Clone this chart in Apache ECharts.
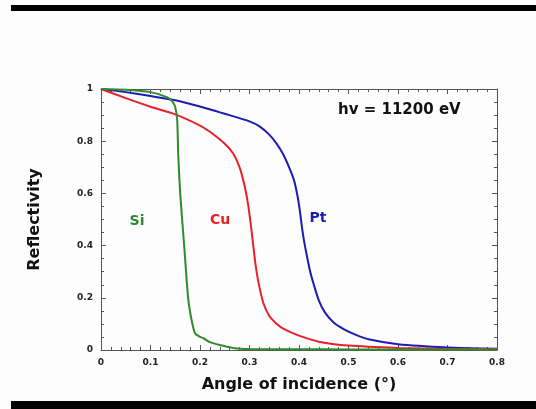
<!DOCTYPE html>
<html>
<head>
<meta charset="utf-8">
<script src="https://cdn.jsdelivr.net/npm/echarts@6/dist/echarts.min.js"></script>
<style>
  html, body { margin: 0; padding: 0; background: #fdfdfd; }
  #chart { width: 536px; height: 409px; }
</style>
</head>
<body>
<div id="chart"></div>
<script>
// reflectivity curves, x = angle (deg), y = reflectivity
var siX = [0, 0.05, 0.1, 0.133, 0.144, 0.15, 0.154, 0.156, 0.16, 0.168, 0.176, 0.183, 0.19, 0.2, 0.207, 0.22, 0.24, 0.267, 0.3, 0.4, 0.5, 0.6, 0.7, 0.8];
var siY = [1, 0.997, 0.988, 0.969, 0.953, 0.93, 0.88, 0.75, 0.6, 0.4, 0.2, 0.115, 0.064, 0.05, 0.045, 0.03, 0.019, 0.008, 0.004, 0.003, 0.002, 0.002, 0.002, 0.002];

var cuX = [0, 0.05, 0.1, 0.15, 0.2, 0.22, 0.25, 0.267, 0.28, 0.29, 0.297, 0.302, 0.307, 0.312, 0.318, 0.328, 0.34, 0.355, 0.37, 0.4, 0.44, 0.5, 0.6, 0.7, 0.8];
var cuY = [1, 0.965, 0.932, 0.903, 0.86, 0.836, 0.79, 0.753, 0.70, 0.63, 0.56, 0.49, 0.41, 0.33, 0.26, 0.18, 0.13, 0.10, 0.08, 0.055, 0.032, 0.017, 0.008, 0.004, 0.003];

var ptX = [0, 0.05, 0.1, 0.15, 0.2, 0.25, 0.3, 0.321, 0.34, 0.355, 0.368, 0.38, 0.39, 0.397, 0.402, 0.406, 0.41, 0.416, 0.422, 0.43, 0.44, 0.452, 0.47, 0.49, 0.515, 0.543, 0.6, 0.7, 0.8];
var ptY = [1, 0.988, 0.973, 0.957, 0.933, 0.905, 0.876, 0.856, 0.825, 0.79, 0.75, 0.70, 0.65, 0.59, 0.53, 0.47, 0.42, 0.36, 0.305, 0.25, 0.19, 0.145, 0.105, 0.08, 0.058, 0.04, 0.022, 0.01, 0.005];

var labels = [
  {text: 'Si', color: '#2e8b2e', x: 137, y: 221},
  {text: 'Cu', color: '#e8202a', x: 220, y: 220},
  {text: 'Pt', color: '#1c1cb4', x: 318, y: 218}
];

function pairs(xs, ys) {
  return xs.map(function (x, i) { return [x, ys[i]]; });
}

var chart = echarts.init(document.getElementById('chart'));
var fontFam = 'DejaVu Sans, Arial, sans-serif';
var frameColor = '#555';

function makeLine(name, xs, ys, color) {
  return {
    name: name,
    type: 'line',
    data: pairs(xs, ys),
    smooth: 0.2,
    showSymbol: false,
    lineStyle: { color: color, width: 2 }
  };
}

var graphics = [
  { type: 'rect', shape: { x: 11, y: 5, width: 525, height: 6 }, style: { fill: '#000' } },
  { type: 'rect', shape: { x: 11, y: 401, width: 525, height: 8 }, style: { fill: '#000' } },
  { type: 'text', left: 338, top: 103,
    style: { text: 'hv = 11200 eV', fill: '#111', font: 'bold 15px ' + fontFam } }
];
labels.forEach(function (l) {
  graphics.push({
    type: 'text', x: l.x, y: l.y,
    style: { text: l.text, fill: l.color, font: 'bold 14px ' + fontFam, align: 'center', verticalAlign: 'middle' }
  });
});

var option = {
  backgroundColor: '#fdfdfd',
  animation: false,
  grid: { left: 101, right: 39, top: 89, bottom: 59 },
  xAxis: [{
    type: 'value', min: 0, max: 0.8, interval: 0.1,
    name: 'Angle of incidence (°)', nameLocation: 'middle', nameGap: 27,
    nameTextStyle: { fontSize: 16, fontWeight: 'bold', color: '#111', fontFamily: fontFam },
    axisLine: { show: true, onZero: false, lineStyle: { color: frameColor, width: 1 } },
    axisTick: { inside: true, length: 5, lineStyle: { color: frameColor } },
    minorTick: { show: true, splitNumber: 5, length: 3, lineStyle: { color: frameColor } },
    axisLabel: { fontSize: 9, fontWeight: 'bold', color: '#222', margin: 8, fontFamily: fontFam },
    splitLine: { show: false }
  }, {
    type: 'value', position: 'top', min: 0, max: 0.8, interval: 0.1,
    axisLine: { show: true, onZero: false, lineStyle: { color: frameColor, width: 1 } },
    axisTick: { inside: true, length: 5, lineStyle: { color: frameColor } },
    minorTick: { show: true, splitNumber: 5, length: 3, lineStyle: { color: frameColor } },
    axisLabel: { show: false },
    splitLine: { show: false }
  }],
  yAxis: [{
    type: 'value', min: 0, max: 1, interval: 0.2,
    name: 'Reflectivity', nameLocation: 'middle', nameGap: 58, nameRotate: 90,
    nameTextStyle: { fontSize: 16, fontWeight: 'bold', color: '#111', fontFamily: fontFam },
    axisLine: { show: true, onZero: false, lineStyle: { color: frameColor, width: 1 } },
    axisTick: { inside: true, length: 5, lineStyle: { color: frameColor } },
    minorTick: { show: true, splitNumber: 4, length: 3, lineStyle: { color: frameColor } },
    axisLabel: { fontSize: 9, fontWeight: 'bold', color: '#222', margin: 8, fontFamily: fontFam },
    splitLine: { show: false }
  }, {
    type: 'value', position: 'right', min: 0, max: 1, interval: 0.2,
    axisLine: { show: true, onZero: false, lineStyle: { color: frameColor, width: 1 } },
    axisTick: { inside: true, length: 5, lineStyle: { color: frameColor } },
    minorTick: { show: true, splitNumber: 4, length: 3, lineStyle: { color: frameColor } },
    axisLabel: { show: false },
    splitLine: { show: false }
  }],
  series: [
    makeLine('Pt', ptX, ptY, '#1c1cb4'),
    makeLine('Cu', cuX, cuY, '#e8202a'),
    makeLine('Si', siX, siY, '#2e8b2e')
  ],
  graphic: graphics
};

chart.setOption(option);
</script>
</body>
</html>
